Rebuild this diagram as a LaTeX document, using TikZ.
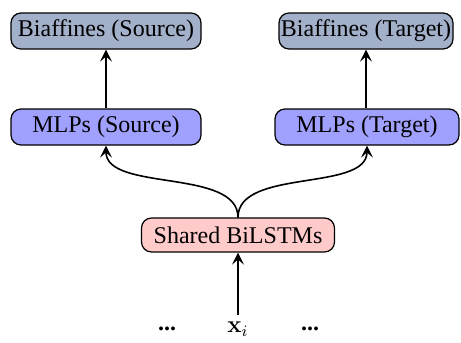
\documentclass[tikz,border=0pt]{standalone}
\usepackage[no-math]{fontspec}
\setmainfont{Liberation Serif}
\usetikzlibrary{arrows.meta}
\definecolor{biafill}{RGB}{162,176,201}
\definecolor{mlpfill}{RGB}{160,160,255}
\definecolor{lstmfill}{RGB}{255,202,202}
\tikzset{
  layer/.style={draw=black, rounded corners=5pt, semithick, minimum height=18pt,
    inner sep=0pt, font=\fontsize{12}{14}\selectfont},
  biaf/.style={layer, fill=biafill},
  mlp/.style={layer, fill=mlpfill},
  lstm/.style={layer, fill=lstmfill},
  flow/.style={-{Stealth[length=6pt,width=6pt,inset=2.5pt]}, thick},
  inp/.style={font=\fontsize{12}{14}\selectfont}
}
\begin{document}
\begin{tikzpicture}[x=0.5pt,y=-0.5pt]
  \useasboundingbox (0,0) rectangle (461,343);
  % output layers
  \node[biaf, minimum width=95pt] (bs) at (106,31) {Biaffines (Source)};
  \node[biaf, minimum width=87pt] (bt) at (366,31) {Biaffines (Target)};
  % task-specific MLPs
  \node[mlp, minimum width=95pt] (ms) at (106,127) {MLPs (Source)};
  \node[mlp, minimum width=92pt] (mt) at (367,127) {MLPs (Target)};
  % shared encoder
  \node[lstm, minimum width=96.5pt, minimum height=17pt] (sh) at (238,235) {Shared BiLSTMs};
  % input tokens
  \node[inp] (dl) at (167,329) {\textbf{...}};
  \node[inp] (xi) at (238,329) {$\mathbf{x}_i$};
  \node[inp] (dr) at (310,329) {\textbf{...}};
  % connections
  \draw[flow] (xi.north) -- (sh.south);
  \draw[flow] (sh.north) .. controls (238,168) and (106,192) .. (ms.south);
  \draw[flow] (sh.north) .. controls (238,168) and (367,192) .. (mt.south);
  \draw[flow] (ms.north) -- (bs.south);
  \draw[flow] (mt.north -| bt.south) -- (bt.south);
\end{tikzpicture}
\end{document}
